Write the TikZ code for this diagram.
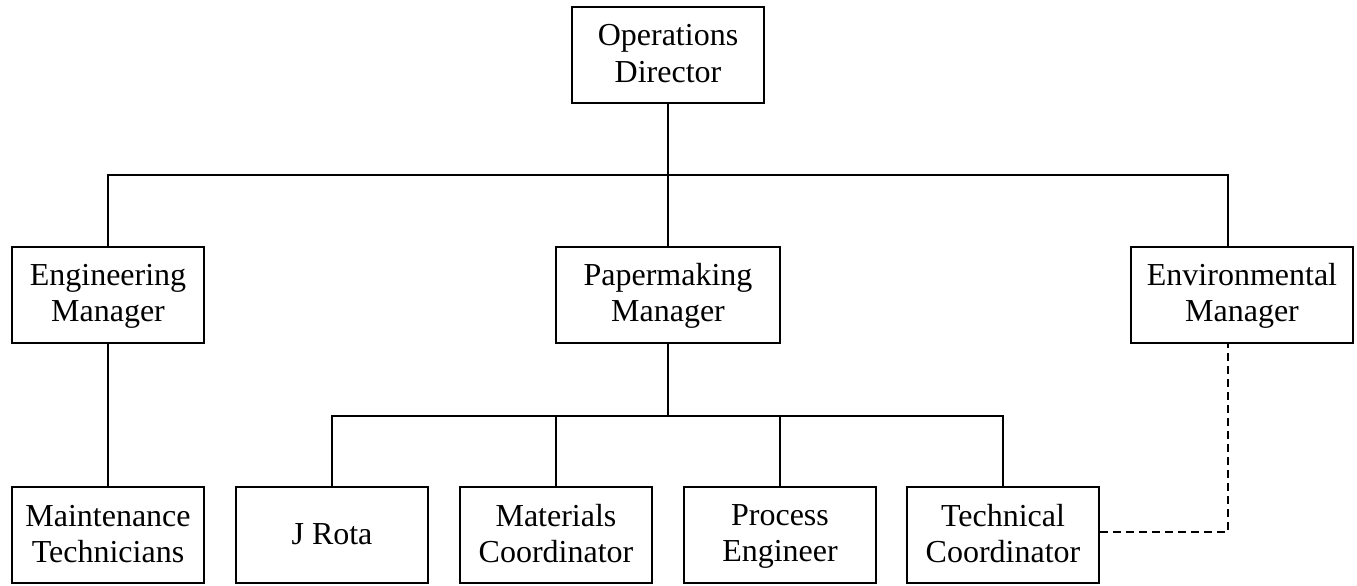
\documentclass[tikz,border=0pt]{standalone}
\usepackage{fontspec}
\setmainfont{Liberation Serif}
\newcommand\linestrut{\rule[-6pt]{0pt}{30pt}}
\begin{document}
\begin{tikzpicture}[x=1pt,y=-1pt,
  box/.style={draw,line width=1.6pt,minimum height=96pt,inner sep=0pt,align=center,
    font=\fontsize{32}{36}\selectfont},
  link/.style={line width=1.6pt},
  dotlink/.style={line width=1.6pt,dash pattern=on 8pt off 5pt}]
\useasboundingbox (0,0) rectangle (1357,586);
\node[box,minimum width=192pt] (ops) at (668,55) {Operations\linestrut\\Director\linestrut};
\node[box,minimum width=192pt] (eng) at (108,295) {Engineering\linestrut\\Manager\linestrut};
\node[box,minimum width=224pt] (pm) at (668,295) {Papermaking\linestrut\\Manager\linestrut};
\node[box,minimum width=222pt] (env) at (1242,295) {Environmental\linestrut\\Manager\linestrut};
\node[box,minimum width=192pt] (maint) at (108,535) {Maintenance\linestrut\\Technicians\linestrut};
\node[box,minimum width=192pt] (rota) at (332,535) {J Rota\linestrut};
\node[box,minimum width=192pt] (mat) at (556,535) {Materials\linestrut\\Coordinator\linestrut};
\node[box,minimum width=192pt] (proc) at (780,535) {Process\linestrut\\Engineer\linestrut};
\node[box,minimum width=192pt] (tech) at (1003,535) {Technical\linestrut\\Coordinator\linestrut};
\coordinate (bus) at (668,175);
\coordinate (pmbus) at (668,416);
\coordinate (envtop) at ([xshift=-14pt]env.north);
\coordinate (envbot) at ([xshift=-14pt]env.south);
\draw[link] (ops.south) -- (pm.north);
\draw[link] (eng.north) |- (bus) -| (envtop);
\draw[link] (eng.south) -- (maint.north);
\draw[link] (pm.south) -- (pmbus);
\draw[link] (rota.north) |- (pmbus) -| (tech.north);
\draw[link] (mat.north) -- (mat.north |- pmbus);
\draw[link] (proc.north) -- (proc.north |- pmbus);
\draw[dotlink] ([yshift=3pt]tech.east) -| (envbot);
\end{tikzpicture}
\end{document}
